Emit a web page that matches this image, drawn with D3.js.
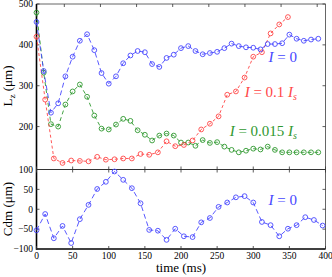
<!DOCTYPE html>
<meta charset="utf-8">
<html>
<head>
    <title>Lz and Cdm vs time</title>
    <script src="https://d3js.org/d3.v7.min.js"></script>
    <style>
        body { margin: 0; background: #fff; }
    </style>
</head>
<body>
<div id="chart"></div>
<script type="text/javascript">

    // Lz (um), top panel; blue and green sampled every 10 ms, red every 12 ms
    var timeA = [0,10,20,30,40,50,60,70,80,90,100,110,120,130,140,150,160,170,180,190,
                 200,210,220,230,240,250,260,270,280,290,300,310,320,330,340,350,360,370,380,390];
    var lzI0 = [456,336,234,257,323,371,410,426,387,331,305,323,355,374,385,382,353,346,368,376,
                392,397,385,377,380,383,392,403,397,394,393,389,402,402,404,425,415,410,413,415];
    var lzI0015 = [479,332,206,200,254,286,303,273,227,195,193,205,219,214,191,180,166,178,183,178,
                   161,161,153,167,160,162,151,143,137,141,146,144,151,143,137,137,137,137,137,137];

    var timeB = [0,12,24,36,48,60,72,84,96,108,120,132,144,156,168,180,192,204,216,228,
                 240,252,264,276,288,300,312,324,336,348];
    var lzI01 = [420,266,122,111,117,116,115,126,119,120,122,122,133,131,137,164,152,155,166,193,
                 207,225,278,286,320,371,382,428,450,468];

    // Cdm (um), bottom panel, every 12 ms
    var timeC = [0,12,24,36,48,60,72,84,96,108,120,132,144,156,168,180,192,204,216,228,
                 240,252,264,276,288,300,312,324,336,348,360,372,384,396];
    var cdmI0 = [-53,-12,-73,-42,-85,-25,11,51,69,95,74,53,15,-52,-54,-77,-49,-68,-70,-33,
                 -22,6,17,30,33,17,-32,-40,-68,-49,-40,-20,-27,-41];

    var xTicks = [0,50,100,150,200,250,300,350,400];
    var xTicksTopPanel = [38.5,88.5,138.5,188.5,238.5,288.5,338.5,388.5];
    var yTicksTop = [500,400,300,200];
    var yTicksBot = [100,50,0,-50,-100];

    (function () {
    var width = 332, height = 277;
    var pLeft = 36.5, pRight = 325.5, pTop = 4, pMid = 169.5, pBottom = 249;

    var svg = d3.select("#chart").append("svg")
        .attr("width", width)
        .attr("height", height)
        .attr("font-family", "'Liberation Serif', 'Times New Roman', Times, serif");

    var x = d3.scaleLinear().domain([0, 400]).range([pLeft, pRight]);
    var yTop = d3.scaleLinear().domain([95, 500]).range([pMid, pTop]);
    var yBot = d3.scaleLinear().domain([-100, 100]).range([pBottom, pMid]);

    var blue = "#4646ff", red = "#ff4646", green = "#2f982f";

    // frame
    var frame = svg.append("g");
    frame.append("line").attr("x1", pLeft).attr("x2", pRight).attr("y1", pTop).attr("y2", pTop)
        .attr("stroke", "#666").attr("stroke-width", 1);
    frame.append("line").attr("x1", pRight).attr("x2", pRight).attr("y1", pTop).attr("y2", pBottom)
        .attr("stroke", "#666").attr("stroke-width", 1);
    frame.append("line").attr("x1", pLeft).attr("x2", pRight).attr("y1", pMid).attr("y2", pMid)
        .attr("stroke", "#333").attr("stroke-width", 1);
    frame.append("line").attr("x1", pLeft).attr("x2", pLeft).attr("y1", pTop).attr("y2", pBottom + 0.75)
        .attr("stroke", "#000").attr("stroke-width", 1.6);
    frame.append("line").attr("x1", pLeft).attr("x2", pRight).attr("y1", pBottom).attr("y2", pBottom)
        .attr("stroke", "#000").attr("stroke-width", 1.6);

    // ticks (inward)
    var tl = 3;
    var ticks = svg.append("g").attr("stroke", "#333").attr("stroke-width", 0.8);
    xTicksTopPanel.forEach(function (t) {
        ticks.append("line").attr("x1", x(t)).attr("x2", x(t)).attr("y1", pTop).attr("y2", pTop + tl);
    });
    xTicks.forEach(function (t) {
        ticks.append("line").attr("x1", x(t)).attr("x2", x(t)).attr("y1", pMid - tl).attr("y2", pMid + tl);
        ticks.append("line").attr("x1", x(t)).attr("x2", x(t)).attr("y1", pBottom - tl).attr("y2", pBottom);
    });
    yTicksTop.forEach(function (v) {
        ticks.append("line").attr("x1", pLeft).attr("x2", pLeft + tl).attr("y1", yTop(v)).attr("y2", yTop(v));
        ticks.append("line").attr("x1", pRight - tl).attr("x2", pRight).attr("y1", yTop(v)).attr("y2", yTop(v));
    });
    yTicksBot.forEach(function (v) {
        ticks.append("line").attr("x1", pLeft).attr("x2", pLeft + tl).attr("y1", yBot(v)).attr("y2", yBot(v));
        ticks.append("line").attr("x1", pRight - tl).attr("x2", pRight).attr("y1", yBot(v)).attr("y2", yBot(v));
    });

    // tick labels
    var fmt = d3.format("d");
    svg.selectAll(".ylabTop").data(yTicksTop).enter().append("text")
        .attr("x", pLeft - 3.5).attr("y", function (d) { return yTop(d) + 3.3; })
        .attr("text-anchor", "end").attr("font-size", 9.5).text(fmt);
    svg.selectAll(".ylabBot").data(yTicksBot).enter().append("text")
        .attr("x", pLeft - 3.5).attr("y", function (d) { return yBot(d) + 3.3; })
        .attr("text-anchor", "end").attr("font-size", 9.5).text(fmt);
    svg.selectAll(".xlab").data(xTicks).enter().append("text")
        .attr("x", function (d) { return x(d); }).attr("y", pBottom + 10)
        .attr("text-anchor", "middle").attr("font-size", 9.5).text(fmt);

    // axis titles
    var lz = svg.append("text").attr("transform", "translate(12,86) rotate(-90)")
        .attr("text-anchor", "middle").attr("font-size", 13);
    lz.append("tspan").text("L");
    lz.append("tspan").attr("font-size", 9).attr("dy", 2.5).text("z");
    lz.append("tspan").attr("dy", -2.5).text(" (μm)");

    svg.append("text").attr("transform", "translate(12,209) rotate(-90)")
        .attr("text-anchor", "middle").attr("font-size", 13).text("Cdm (μm)");

    svg.append("text").attr("x", x(200)).attr("y", 272)
        .attr("text-anchor", "middle").attr("font-size", 13).text("time (ms)");

    // series
    function drawSeries(times, values, yScale, color, dash) {
        var pts = times.map(function (t, i) { return [t, values[i]]; });
        var line = d3.line().x(function (d) { return x(d[0]); }).y(function (d) { return yScale(d[1]); });
        var g = svg.append("g");
        g.append("path").datum(pts).attr("d", line)
            .attr("fill", "none").attr("stroke", color).attr("stroke-width", 0.9)
            .attr("stroke-dasharray", dash);
        g.selectAll("circle").data(pts).enter().append("circle")
            .attr("cx", function (d) { return x(d[0]); })
            .attr("cy", function (d) { return yScale(d[1]); })
            .attr("r", 2.4).attr("fill", "none").attr("stroke", color).attr("stroke-width", 0.9);
    }
    drawSeries(timeA, lzI0015, yTop, green, "4,3");
    drawSeries(timeB, lzI01, yTop, red, "3,2.5");
    drawSeries(timeA, lzI0, yTop, blue, "5,3");
    drawSeries(timeC, cdmI0, yBot, blue, "5,3");

    // legends
    function legend(yPos, color, value, sub) {
        var t = svg.append("text").attr("x", 297).attr("y", yPos)
            .attr("text-anchor", "end").attr("font-size", 15).attr("fill", color);
        t.append("tspan").attr("font-style", "italic").text("I");
        t.append("tspan").text(" = " + value);
        if (sub) {
            t.append("tspan").attr("font-style", "italic").text(" I");
            t.append("tspan").attr("font-style", "italic").attr("font-size", 10).attr("dy", 3).text("s");
        }
    }
    legend(61.5, blue, "0", false);
    legend(96.5, red, "0.1", true);
    legend(136, green, "0.015", true);
    legend(205, blue, "0", false);
    })();

</script>
</body>
</html>
